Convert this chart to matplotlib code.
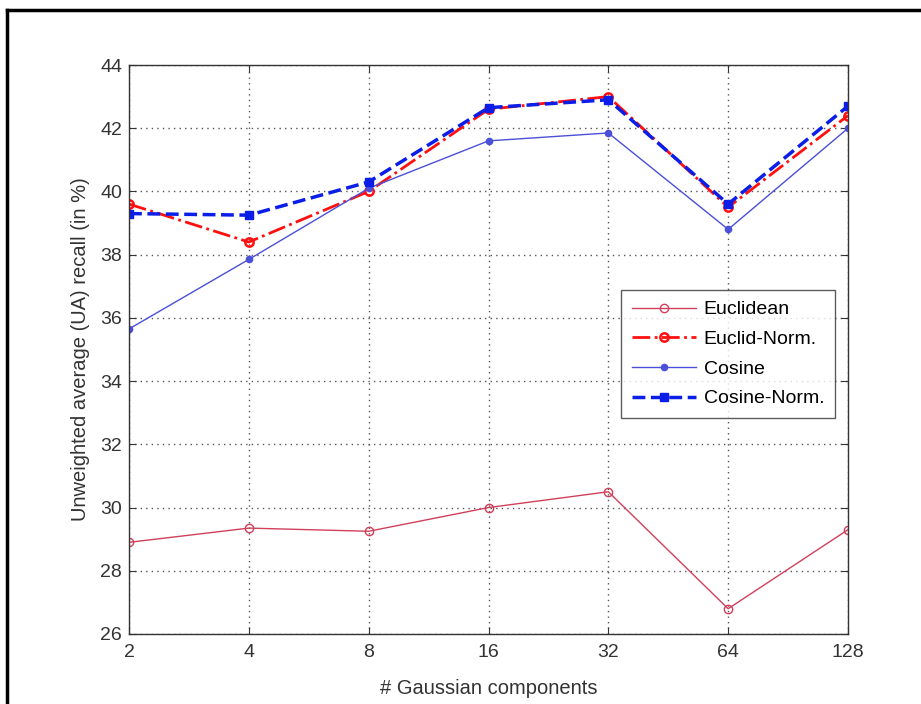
import numpy as np
import matplotlib.pyplot as plt
from matplotlib.lines import Line2D

plt.rcParams['font.family'] = ['Liberation Sans', 'DejaVu Sans']

components = [2, 4, 8, 16, 32, 64, 128]
tick_labels = ['2', '4', '8', '16', '32', '64', '128']
euclidean = [28.9, 29.35, 29.25, 30.0, 30.5, 26.8, 29.3]
euclid_norm = [39.6, 38.4, 40.0, 42.6, 43.0, 39.5, 42.4]
cosine = [35.65, 37.85, 40.1, 41.6, 41.85, 38.8, 42.0]
cosine_norm = [39.3, 39.25, 40.3, 42.65, 42.9, 39.6, 42.7]

fig = plt.figure(figsize=(9.21, 7.04), dpi=100)
ax = fig.add_axes([129/921, 1-634/704, (848-129)/921, (634-65)/704])

ax.plot(components, euclidean, '-', color='#d0405a', lw=1.0, marker='o',
        mfc='none', mec='#d0405a', ms=6, label='Euclidean')
ax.plot(components, euclid_norm, '-.', color='#ff1010', lw=2.0, marker='o',
        mfc='none', mec='#ff1010', mew=1.8, ms=6, label='Euclid-Norm.')
ax.plot(components, cosine, '-', color='#4a50d8', lw=1.0, marker='.',
        ms=9, label='Cosine')
ax.plot(components, cosine_norm, '--', color='#0a1ee8', lw=2.5, marker='s',
        ms=6, label='Cosine-Norm.')

ax.set_xscale('log', base=2)
ax.set_xlim(2, 128)
ax.set_ylim(26, 44)
ax.set_xticks(components)
ax.set_xticklabels(tick_labels)
ax.minorticks_off()
ax.set_yticks(np.arange(26, 45, 2))
ax.tick_params(direction='in', top=True, right=True, length=5, labelsize=14,
               colors='#333333')
ax.tick_params(axis='x', pad=7)
ax.tick_params(axis='y', pad=5)
ax.grid(True, linestyle=(0, (1, 3)), color='#555555', lw=1.0)
for s in ax.spines.values():
    s.set_color('#333333')
    s.set_linewidth(1.0)

ax.set_xlabel('# Gaussian components', fontsize=14.5, color='#333333', labelpad=13)
ax.set_ylabel('Unweighted average (UA) recall (in %)', fontsize=14.5,
              color='#333333', labelpad=7)

leg = ax.legend(loc='upper left', bbox_to_anchor=((621-129)/719, (634-290)/569),
                fontsize=14, frameon=True, fancybox=False, borderpad=0.55,
                handlelength=3.3, labelspacing=0.62, borderaxespad=0,
                handletextpad=0.4)
leg.get_frame().set_edgecolor('#333333')
leg.get_frame().set_linewidth(1.0)

# outer frame
fig.add_artist(Line2D([7/921, 7/921], [0, 1-10/704], color='black', lw=2.5,
                      transform=fig.transFigure))
fig.add_artist(Line2D([7/921, 1], [1-10/704, 1-10/704], color='black', lw=2.5,
                      transform=fig.transFigure))

fig.savefig('out.png', dpi=100)
